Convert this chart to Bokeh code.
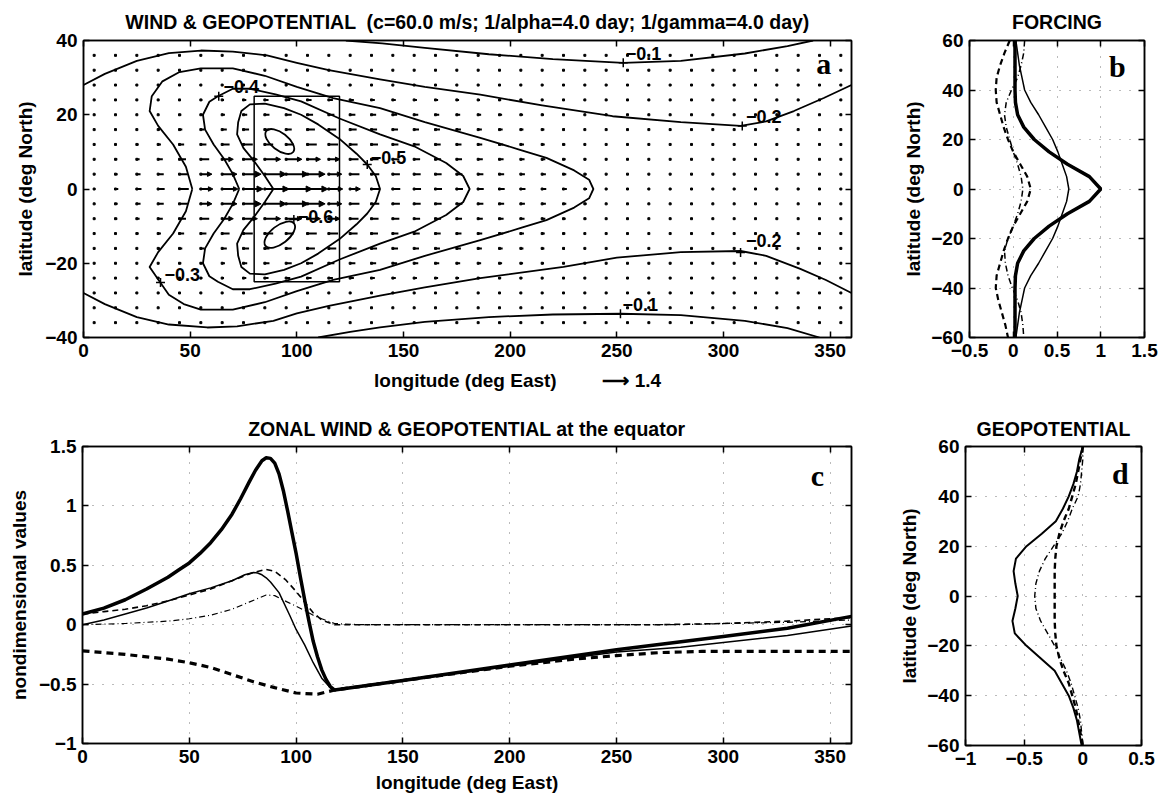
from bokeh.plotting import figure
from bokeh.layouts import column, row
from bokeh.models import Range1d, LinearAxis, FixedTicker, Arrow, NormalHead, ColumnDataSource
from bokeh.embed import file_html
from bokeh.resources import INLINE
from bokeh.core.properties import value

FONT = "Liberation Sans"
SERIF = "Liberation Serif"

# ---------------- Panel a : geopotential contours (lon, lat) ----------------
c01_top_lon = [123, 140, 160, 190, 220, 253, 280, 310, 330, 342]
c01_top_lat = [40, 39.2, 38, 36.3, 35, 34, 34.5, 36.5, 38.5, 40]
c01_bot_lon = [110, 125, 139, 160, 190, 220, 252, 280, 310, 330, 345]
c01_bot_lat = [-40, -38.5, -37.3, -35.8, -34.5, -33.8, -33.6, -34, -35.5, -37.5, -40]
c02_top_lon = [0, 10, 25, 40, 55, 70, 86, 100, 115, 139, 160, 186, 215, 248, 280, 308, 320, 333, 347, 360]
c02_top_lat = [28, 31, 34.5, 36.6, 37.3, 37, 36, 34, 32, 29.5, 27.5, 25.4, 22.5, 19.6, 18, 17, 18.2, 21, 24.5, 28]
c02_bot_lon = [0, 10, 25, 40, 58, 72, 89, 100, 115, 139, 160, 186, 225, 250, 280, 308, 320, 336, 348, 360]
c02_bot_lat = [-28, -31, -34.5, -36.5, -37.3, -37, -35.5, -33.5, -31.5, -28.7, -26.5, -24, -21, -18.5, -17, -16.7, -18, -21.5, -24.5, -28]
c03_lon = [51, 48, 42, 35, 31, 32, 37, 45, 55, 70, 85, 100, 117, 139, 160, 186, 205, 217, 230, 237, 239,
           237, 230, 217, 205, 186, 160, 139, 117, 100, 85, 70, 55, 47, 40, 36, 31, 35, 42, 48, 51]
c03_lat = [0, 6, 12, 17, 21, 25, 29, 31.5, 32.5, 32.5, 30.5, 27.5, 24.5, 21.8, 18, 13.8, 10.5, 8.4, 5, 2.5, 0,
           -2.5, -5, -8.4, -10.5, -13.8, -18, -21.8, -24.5, -27.5, -30.5, -32.5, -32.5, -31, -28.5, -25.2, -21, -17, -12, -6, 0]
c04_lon = [73, 70, 66, 61, 57, 56, 59, 63, 70, 78, 90, 102, 120, 139, 155, 170, 178, 181,
           178, 170, 155, 139, 120, 102, 90, 78, 70, 63, 59, 56, 57, 61, 66, 70, 73]
c04_lat = [0, 4, 8, 12, 16, 20, 23.5, 25, 27, 27, 25.5, 23.6, 19, 14.7, 11.5, 7, 3.5, 0,
           -3.5, -7, -11.5, -14.7, -19, -23.6, -25.5, -27, -27, -25, -23.5, -20, -16, -12, -8, -4, 0]
c05_lon = [89, 85, 80, 75, 72, 72.5, 74, 78, 85, 94, 102, 110, 120, 128, 133, 137, 139,
           137, 133, 128, 120, 110, 102, 94, 85, 78, 74, 72.5, 72, 75, 80, 85, 89]
c05_lat = [0, 3.5, 7.5, 11, 14.7, 18, 21, 22.8, 23, 21.8, 20, 17.4, 13.5, 9.5, 6.6, 3.5, 0,
           -3.5, -6.6, -9.5, -13.5, -17.4, -20, -21.8, -23, -22.8, -21, -18, -14.7, -11, -7.5, -3.5, 0]
# two closed -0.6 minima (centre, extent in deg, tilt in deg)
c06_lon = [92, 92]
c06_lat = [12.8, -12.3]
c06_wlon = [16, 17]
c06_hlat = [4.6, 4.8]
c06_tilt = [-38, 38]
# contour labels
lab_text = ["\u22120.1", "\u22120.2", "\u22120.2", "\u22120.1", "\u22120.3", "\u22120.4", "\u22120.5", "\u22120.6"]
lab_mark_lon = [253, 308.8, 308, 251.7, 36.1, 63.4, 133, 98.6]
lab_mark_lat = [34, 17, -17.1, -33.6, -25.2, 25, 6.6, -8.2]
lab_text_lon = [262.5, 318.9, 318.9, 261, 46.3, 74, 143, 108.8]
lab_text_lat = [36.6, 19.6, -14, -31, -22.9, 27.7, 8.4, -7.5]
# forcing box
box_lon = [80, 120]
box_lat = [-25, 25]
# wind grid and zonal wind (nondimensional) in the forced region
grid_lon = list(range(5, 360, 10))
grid_lat = list(range(-36, 37, 4))
u_lon = [15, 25, 35, 45, 55, 65, 75, 85, 95, 105, 115, 125, 135, 145, 155, 165, 175, 185, 195, 205, 215, 225, 235]
u_lat = [24, 20, 16, 12, 8, 4, 0, -4, -8, -12, -16, -20, -24]
u_table = [
    [0.03, 0.03, 0.04, 0.06, 0.08, 0.10, 0.15, 0.20, 0.22, 0.22, 0.22, 0.20, 0.18, 0.16, 0.15, 0.14, 0.12, 0.10, 0.09, 0.08, 0.07, 0.05, 0.04],
    [0.04, 0.05, 0.06, 0.10, 0.12, 0.15, 0.20, 0.25, 0.30, 0.30, 0.30, 0.28, 0.25, 0.23, 0.22, 0.20, 0.18, 0.16, 0.14, 0.12, 0.10, 0.07, 0.05],
    [0.05, 0.07, 0.10, 0.15, 0.20, 0.25, 0.30, 0.25, 0.30, 0.40, 0.40, 0.35, 0.30, 0.28, 0.26, 0.24, 0.22, 0.20, 0.17, 0.14, 0.12, 0.08, 0.05],
    [0.07, 0.10, 0.15, 0.25, 0.30, 0.40, 0.50, 0.45, 0.40, 0.50, 0.50, 0.40, 0.35, 0.30, 0.30, 0.28, 0.25, 0.22, 0.20, 0.17, 0.14, 0.10, 0.06],
    [0.10, 0.15, 0.25, 0.35, 0.45, 0.60, 0.75, 0.85, 0.85, 0.70, 0.60, 0.45, 0.38, 0.35, 0.32, 0.30, 0.28, 0.25, 0.22, 0.20, 0.17, 0.12, 0.08],
    [0.12, 0.20, 0.30, 0.45, 0.60, 0.80, 0.95, 1.15, 1.20, 0.95, 0.70, 0.50, 0.42, 0.38, 0.35, 0.33, 0.30, 0.28, 0.25, 0.22, 0.20, 0.15, 0.10],
    [0.15, 0.25, 0.35, 0.50, 0.65, 0.85, 1.05, 1.30, 1.40, 1.10, 0.75, 0.55, 0.45, 0.40, 0.37, 0.35, 0.33, 0.30, 0.28, 0.25, 0.22, 0.18, 0.12],
    [0.12, 0.20, 0.30, 0.45, 0.60, 0.80, 0.95, 1.15, 1.20, 0.95, 0.70, 0.50, 0.42, 0.38, 0.35, 0.33, 0.30, 0.28, 0.25, 0.22, 0.20, 0.15, 0.10],
    [0.10, 0.15, 0.25, 0.35, 0.45, 0.60, 0.75, 0.85, 0.85, 0.70, 0.60, 0.45, 0.38, 0.35, 0.32, 0.30, 0.28, 0.25, 0.22, 0.20, 0.17, 0.12, 0.08],
    [0.07, 0.10, 0.15, 0.25, 0.30, 0.40, 0.50, 0.45, 0.40, 0.50, 0.50, 0.40, 0.35, 0.30, 0.30, 0.28, 0.25, 0.22, 0.20, 0.17, 0.14, 0.10, 0.06],
    [0.05, 0.07, 0.10, 0.15, 0.20, 0.25, 0.30, 0.25, 0.30, 0.40, 0.40, 0.35, 0.30, 0.28, 0.26, 0.24, 0.22, 0.20, 0.17, 0.14, 0.12, 0.08, 0.05],
    [0.04, 0.05, 0.06, 0.10, 0.12, 0.15, 0.20, 0.25, 0.30, 0.30, 0.30, 0.28, 0.25, 0.23, 0.22, 0.20, 0.18, 0.16, 0.14, 0.12, 0.10, 0.07, 0.05],
    [0.03, 0.03, 0.04, 0.06, 0.08, 0.10, 0.15, 0.20, 0.22, 0.22, 0.22, 0.20, 0.18, 0.16, 0.15, 0.14, 0.12, 0.10, 0.09, 0.08, 0.07, 0.05, 0.04],
]
ref_arrow = 1.4

# ---------------- Panel b : forcing profiles ----------------
prof_lat = [60, 55, 50, 45, 40, 35, 30, 25, 20, 15, 10, 5, 0, -5, -10, -15, -20, -25, -30, -35, -40, -45, -50, -55, -60]
b_thick = [0.02, 0.02, 0.02, 0.02, 0.02, 0.025, 0.05, 0.12, 0.24, 0.41, 0.62, 0.87, 1.0, 0.87, 0.62, 0.41, 0.24, 0.12, 0.05, 0.025, 0.02, 0.02, 0.02, 0.02, 0.02]
b_thin = [0.03, 0.05, 0.07, 0.1, 0.13, 0.2, 0.29, 0.37, 0.45, 0.51, 0.56, 0.61, 0.635, 0.61, 0.56, 0.51, 0.45, 0.37, 0.29, 0.2, 0.13, 0.1, 0.07, 0.05, 0.03]
b_dash = [-0.04, -0.1, -0.15, -0.19, -0.2, -0.19, -0.15, -0.11, -0.06, 0.0, 0.08, 0.16, 0.2, 0.16, 0.08, 0.0, -0.06, -0.11, -0.15, -0.19, -0.2, -0.17, -0.13, -0.09, -0.06]
b_dashdot = [0.13, 0.12, 0.09, 0.05, -0.02, -0.08, -0.1, -0.08, -0.04, 0.0, 0.05, 0.09, 0.11, 0.09, 0.05, 0.0, -0.06, -0.1, -0.09, -0.06, -0.01, 0.05, 0.09, 0.11, 0.12]

# ---------------- Panel c : zonal wind & geopotential at the equator ----------------
c_lon_thick = [0, 10, 20, 30, 40, 45, 50, 55, 60, 65, 70, 74, 78, 81, 84, 86, 88, 90, 92, 94, 96, 98, 100,
               102, 104, 106, 108, 110, 112, 114, 116, 118, 150, 200, 250, 300, 330, 360]
c_thick = [0.09, 0.14, 0.21, 0.3, 0.4, 0.46, 0.52, 0.6, 0.69, 0.8, 0.93, 1.06, 1.2, 1.3, 1.38, 1.405, 1.4, 1.36, 1.27, 1.13, 0.96, 0.78, 0.6,
           0.4, 0.21, 0.03, -0.14, -0.27, -0.38, -0.46, -0.52, -0.55, -0.47, -0.34, -0.21, -0.1, -0.03, 0.07]
c_lon_thin = [0, 10, 20, 30, 40, 50, 60, 70, 76, 80, 82, 84, 86, 88, 92, 97, 100, 104, 108, 112, 117, 150, 200, 250, 280, 300, 330, 360]
c_thin = [0.0, 0.04, 0.09, 0.14, 0.2, 0.26, 0.31, 0.37, 0.42, 0.44, 0.435, 0.42, 0.395, 0.36, 0.27, 0.08, -0.04, -0.17, -0.32, -0.45, -0.55, -0.47, -0.35, -0.23, -0.19, -0.15, -0.09, -0.01]
c_lon_dash = [0, 10, 20, 30, 40, 50, 60, 70, 80, 86, 90, 95, 100, 104, 108, 112, 118, 200, 270, 300, 330, 360]
c_dash = [0.09, 0.11, 0.13, 0.16, 0.2, 0.25, 0.3, 0.37, 0.44, 0.465, 0.45, 0.38, 0.28, 0.19, 0.1, 0.04, 0.0, 0.0, 0.0, 0.01, 0.03, 0.06]
c_lon_dashdot = [0, 20, 40, 50, 60, 70, 78, 86, 90, 96, 104, 108, 112, 118, 130, 280, 300, 330, 360]
c_dashdot = [0.0, 0.01, 0.03, 0.05, 0.08, 0.13, 0.19, 0.25, 0.245, 0.19, 0.12, 0.08, 0.05, 0.01, 0.0, 0.0, 0.01, 0.02, 0.04]
c_lon_tdash = [0, 20, 40, 50, 60, 70, 80, 90, 100, 110, 118, 150, 200, 230, 250, 270, 290, 360]
c_tdash = [-0.22, -0.25, -0.29, -0.32, -0.36, -0.42, -0.48, -0.53, -0.575, -0.585, -0.55, -0.47, -0.35, -0.29, -0.26, -0.235, -0.225, -0.225]

# ---------------- Panel d : geopotential profiles ----------------
d_solid = [0.0, -0.03, -0.05, -0.08, -0.12, -0.17, -0.23, -0.35, -0.48, -0.57, -0.59, -0.575, -0.555, -0.575, -0.6, -0.58, -0.48, -0.36, -0.24, -0.18, -0.12, -0.08, -0.05, -0.03, -0.01]
d_dash = [0.0, -0.02, -0.04, -0.06, -0.09, -0.12, -0.165, -0.2, -0.225, -0.235, -0.24, -0.24, -0.24, -0.24, -0.24, -0.235, -0.225, -0.2, -0.165, -0.12, -0.09, -0.06, -0.04, -0.02, 0.0]
d_dashdot = [0.0, 0.0, -0.01, -0.02, -0.04, -0.09, -0.13, -0.18, -0.25, -0.32, -0.37, -0.4, -0.41, -0.4, -0.36, -0.3, -0.24, -0.19, -0.14, -0.1, -0.07, -0.04, -0.02, -0.01, 0.0]

# tick labels
a_xticks = [0, 50, 100, 150, 200, 250, 300, 350]
a_yticks = [-40, -20, 0, 20, 40]
a_ylabels = ["\u221240", "\u221220", "0", "20", "40"]
lat_ticks = [-60, -40, -20, 0, 20, 40, 60]
lat_labels = ["\u221260", "\u221240", "\u221220", "0", "20", "40", "60"]
b_xticks = [-0.5, 0, 0.5, 1, 1.5]
b_xlabels = ["\u22120.5", "0", "0.5", "1", "1.5"]
c_yticks = [-1, -0.5, 0, 0.5, 1, 1.5]
c_ylabels = ["\u22121", "\u22120.5", "0", "0.5", "1", "1.5"]
d_xticks = [-1, -0.5, 0, 0.5]
d_xlabels = ["\u22121", "\u22120.5", "0", "0.5"]

TICK_FS = "19px"
LAB_FS = "19px"
TITLE_FS = "19.5px"


def overrides(ticks, labels):
    return {t: l for t, l in zip(ticks, labels)}


def make_fig(xr, yr, fw, fh, bl, br, bt, bb, title, xticks, yticks, xlabels=None, ylabels=None,
             xlabel=None, ylabel=None, grid=True, ylab_standoff=6, title_standoff=15):
    p = figure(x_range=Range1d(*xr), y_range=Range1d(*yr), frame_width=fw, frame_height=fh,
               min_border_left=bl, min_border_right=br, min_border_top=bt, min_border_bottom=bb,
               output_backend="svg", toolbar_location=None, title=title)
    p.title.align = "center"
    p.title.text_font = FONT
    p.title.text_font_size = TITLE_FS
    p.title.text_font_style = "bold"
    p.title.text_color = "black"
    p.title.standoff = title_standoff
    p.outline_line_color = "black"
    p.outline_line_width = 1.5
    p.background_fill_color = "white"
    p.border_fill_color = "white"
    p.add_layout(LinearAxis(), "above")
    p.add_layout(LinearAxis(), "right")
    for ax in p.xaxis:
        ax.ticker = FixedTicker(ticks=xticks)
        if xlabels:
            ax.major_label_overrides = overrides(xticks, xlabels)
    for ax in p.yaxis:
        ax.ticker = FixedTicker(ticks=yticks)
        if ylabels:
            ax.major_label_overrides = overrides(yticks, ylabels)
    for ax in p.axis:
        ax.major_tick_in = 6
        ax.major_tick_out = 0
        ax.minor_tick_line_color = None
        ax.axis_line_width = 1.5
        ax.major_tick_line_width = 1.5
        ax.axis_line_color = "black"
        ax.major_tick_line_color = "black"
        ax.major_label_text_font = FONT
        ax.major_label_text_font_size = TICK_FS
        ax.major_label_text_font_style = "bold"
        ax.major_label_text_color = "black"
        ax.major_label_standoff = 6
        ax.axis_label_text_font = FONT
        ax.axis_label_text_font_size = LAB_FS
        ax.axis_label_text_font_style = "bold"
        ax.axis_label_text_color = "black"
        ax.axis_label_standoff = 6
    for ax in (p.above[0], p.right[0]):
        ax.major_label_text_font_size = "0px"
        ax.major_label_text_color = None
        ax.major_label_standoff = 0
    p.below[0].axis_label = xlabel
    p.left[0].axis_label = ylabel
    p.left[0].axis_label_standoff = ylab_standoff
    p.xgrid.ticker = FixedTicker(ticks=xticks)
    p.ygrid.ticker = FixedTicker(ticks=yticks)
    if grid:
        p.grid.grid_line_color = "#777777"
        p.grid.grid_line_dash = "1 9"
        p.grid.grid_line_width = 1
    else:
        p.grid.visible = False
    return p


def panel_letter(p, x, y, t):
    p.text(x=[x], y=[y], text=[t], text_font=value(SERIF), text_font_style="bold",
           text_font_size="30px", text_align="center", text_baseline="middle", text_color="black")


# ---------------- Panel a ----------------
pa = make_fig((0, 360), (-40, 40), 768, 297, 83, 49, 39, 64,
              "WIND & GEOPOTENTIAL \u00a0(c=60.0 m/s; 1/alpha=4.0 day; 1/gamma=4.0 day)",
              a_xticks, a_yticks, None, a_ylabels, None, "latitude (deg North)", grid=False,
              title_standoff=15)

LON_PER_UNIT = 8.7
# second, line-less axis under panel a carrying the x label and the reference-arrow key
lab_lon = 179
key_lon = 257
key_ax = LinearAxis(ticker=FixedTicker(ticks=[lab_lon, key_lon]),
                    major_label_overrides={lab_lon: "longitude (deg East)",
                                           key_lon: "\u27f6 %.1f" % ref_arrow})
key_ax.axis_line_color = None
key_ax.major_tick_line_color = None
key_ax.minor_tick_line_color = None
key_ax.major_label_text_font = FONT
key_ax.major_label_text_font_size = LAB_FS
key_ax.major_label_text_font_style = "bold"
key_ax.major_label_text_color = "black"
key_ax.major_label_standoff = 4
pa.add_layout(key_ax, "below")

# wind grid dots
gx, gy = [], []
for la in grid_lat:
    for lo in grid_lon:
        gx.append(lo)
        gy.append(la)
pa.scatter(gx, gy, marker="square", size=2.0, color="black")

# wind arrows
bins = {"big": ([], [], [], []), "mid": ([], [], [], [])}
sx0, sy0, sx1, sy1 = [], [], [], []
for i, la in enumerate(u_lat):
    for j, lo in enumerate(u_lon):
        u = u_table[i][j]
        if u < 0.08:
            continue
        x1 = lo + u * LON_PER_UNIT
        if u >= 0.9:
            key = "big"
        elif u >= 0.55:
            key = "mid"
        else:
            sx0.append(lo); sy0.append(la); sx1.append(x1); sy1.append(la)
            continue
        b = bins[key]
        b[0].append(lo); b[1].append(la); b[2].append(x1); b[3].append(la)
pa.segment(sx0, sy0, sx1, sy1, line_width=2, color="black")
for key, hs in (("big", 6), ("mid", 4.5)):
    b = bins[key]
    src = ColumnDataSource(dict(x0=b[0], y0=b[1], x1=b[2], y1=b[3]))
    pa.add_layout(Arrow(x_start="x0", y_start="y0", x_end="x1", y_end="y1", source=src,
                        line_width=2, line_color="black",
                        end=NormalHead(size=hs, fill_color="black", line_color="black", line_width=1)))

# contours
for xs, ys in ((c01_top_lon, c01_top_lat), (c01_bot_lon, c01_bot_lat), (c02_top_lon, c02_top_lat),
               (c02_bot_lon, c02_bot_lat), (c03_lon, c03_lat), (c04_lon, c04_lat), (c05_lon, c05_lat)):
    pa.line(xs, ys, line_width=1.8, color="black", line_join="round")
pa.ellipse(x=c06_lon, y=c06_lat, width=c06_wlon, height=c06_hlat,
           angle=[t * 3.14159265 / 180 for t in c06_tilt], fill_color=None, line_color="black", line_width=1.8)
# forcing box
pa.quad(left=[box_lon[0]], right=[box_lon[1]], bottom=[box_lat[0]], top=[box_lat[1]],
        fill_color=None, line_color="black", line_width=1.5)
# contour labels
pa.scatter(lab_mark_lon, lab_mark_lat, marker="cross", size=9, line_width=1.5, color="black")
pa.text(lab_text_lon, lab_text_lat, text=lab_text, text_font=value(FONT), text_font_size="18px",
        text_font_style="bold", text_align="center", text_baseline="middle", text_color="black")
panel_letter(pa, 347, 33.9, "a")

# ---------------- Panel b ----------------
pb = make_fig((-0.5, 1.5), (-60, 60), 175, 297, 65, 24, 40, 63, "FORCING",
              b_xticks, lat_ticks, b_xlabels, lat_labels, None, "latitude (deg North)", ylab_standoff=4,
              title_standoff=15)
pb.line(b_thick, prof_lat, line_width=3.5, color="black")
pb.line(b_thin, prof_lat, line_width=1.5, color="black")
pb.line(b_dash, prof_lat, line_width=2.2, color="black", line_dash="6 4")
pb.line(b_dashdot, prof_lat, line_width=1.5, color="black", line_dash="6 3 1 3")
panel_letter(pb, 1.19, 49.5, "b")

# ---------------- Panel c ----------------
pc = make_fig((0, 360), (-1, 1.5), 769, 297, 82, 45, 46, 56, "ZONAL WIND & GEOPOTENTIAL at the equator",
              a_xticks, c_yticks, None, c_ylabels, "longitude (deg East)", "nondimensional values",
              title_standoff=13)
pc.line(c_lon_thick, c_thick, line_width=3.5, color="black", line_join="round")
pc.line(c_lon_thin, c_thin, line_width=1.5, color="black", line_join="round")
pc.line(c_lon_dash, c_dash, line_width=1.6, color="black", line_dash="6 4")
pc.line(c_lon_dashdot, c_dashdot, line_width=1.2, color="black", line_dash="6 3 1 3")
pc.line(c_lon_tdash, c_tdash, line_width=3.2, color="black", line_dash="7 5")
panel_letter(pc, 344, 1.26, "c")

# ---------------- Panel d ----------------
pd = make_fig((-1, 0.5), (-60, 60), 176, 299, 66, 26, 46, 54, "GEOPOTENTIAL",
              d_xticks, lat_ticks, d_xlabels, lat_labels, None, "latitude (deg North)", ylab_standoff=4,
              title_standoff=13)
pd.line(d_solid, prof_lat, line_width=2, color="black", line_join="round")
pd.line(d_dash, prof_lat, line_width=2.4, color="black", line_dash="6 4")
pd.line(d_dashdot, prof_lat, line_width=1.4, color="black", line_dash="6 3 1 3")
panel_letter(pd, 0.32, 49.2, "d")

layout = column(row(pa, pb), row(pc, pd))
open("out.html", "w").write(file_html(layout, INLINE))
